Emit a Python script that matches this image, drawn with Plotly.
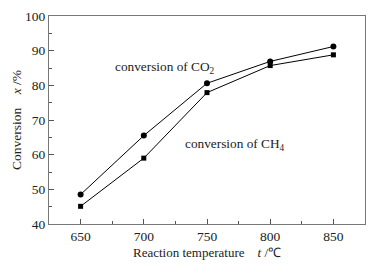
import plotly.graph_objects as go

temps = [650, 700, 750, 800, 850]
co2_conv = [48.5, 65.5, 80.6, 86.9, 91.2]
ch4_conv = [45.1, 59.0, 77.9, 85.7, 88.8]

fam = "Liberation Serif, Times New Roman, serif"
font = dict(family=fam, size=13.5, color="#222")

fig = go.Figure()
fig.add_trace(go.Scatter(x=temps, y=co2_conv, mode="lines+markers",
                         line=dict(color="black", width=1),
                         marker=dict(symbol="circle", size=6, color="black"),
                         name="CO2", showlegend=False))
fig.add_trace(go.Scatter(x=temps, y=ch4_conv, mode="lines+markers",
                         line=dict(color="black", width=1),
                         marker=dict(symbol="square", size=5, color="black"),
                         name="CH4", showlegend=False))

axis_common = dict(showgrid=False, zeroline=False, showline=True, linecolor="#777",
                   linewidth=1, mirror=True, ticks="inside", ticklen=5, tickcolor="#555",
                   tickfont=font, automargin=False)
fig.update_xaxes(range=[625, 875], tickvals=temps,
                 minor=dict(dtick=25, tick0=625, ticks="inside", ticklen=3, tickcolor="#555"),
                 title=dict(text="Reaction temperature&nbsp;&nbsp;&nbsp;&nbsp;<i>t</i> /℃",
                            font=dict(family=fam, size=13, color="#222"), standoff=4),
                 **axis_common)
fig.update_yaxes(range=[40, 100], dtick=10,
                 minor=dict(dtick=5, ticks="inside", ticklen=3, tickcolor="#555"),
                 title=dict(text="Conversion&nbsp;&nbsp;&nbsp;&nbsp;<i>x</i> /%",
                            font=dict(family=fam, size=13.5, color="#222"), standoff=0),
                 **axis_common)

ann_font = dict(family=fam, size=13.3, color="#222")
fig.add_annotation(x=675.5, y=85.1, xref="x", yref="y", text="conversion of CO<sub>2</sub>",
                   showarrow=False, xanchor="left", font=ann_font)
fig.add_annotation(x=731, y=62.8, xref="x", yref="y", text="conversion of CH<sub>4</sub>",
                   showarrow=False, xanchor="left", font=ann_font)

fig.update_layout(width=390, height=265, margin=dict(l=49, r=25, t=16, b=41),
                  paper_bgcolor="white", plot_bgcolor="white", font=font)
fig.write_html("out.html", config={"displayModeBar": False},
               post_script="document.body.style.margin='0';")
